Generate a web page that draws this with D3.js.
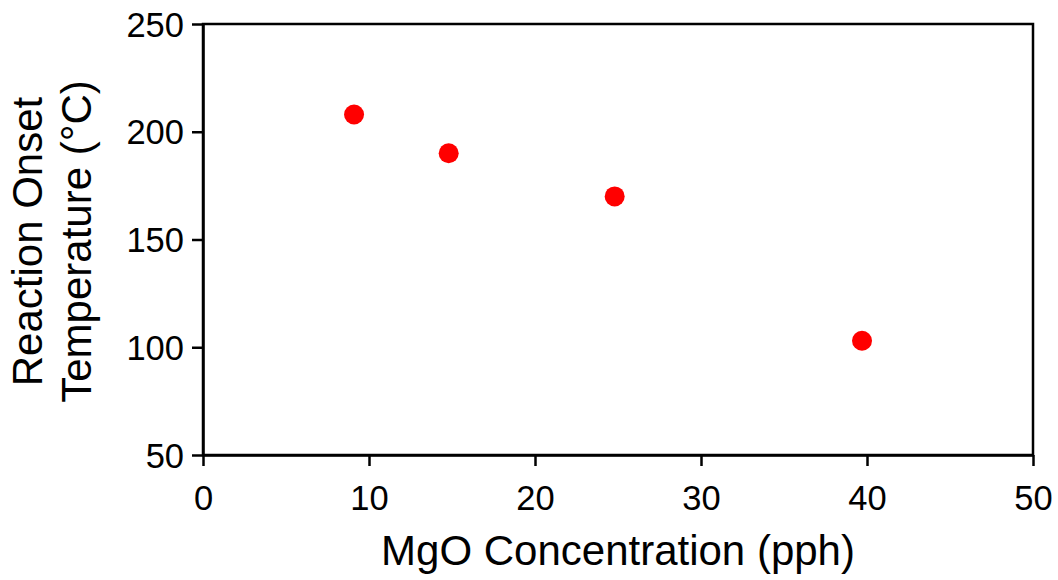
<!DOCTYPE html>
<html>
<head>
<meta charset="utf-8">
<script src="https://cdn.jsdelivr.net/npm/d3@7"></script>
<style>
  body { margin: 0; background: #fff; }
  text { font-family: "Liberation Sans", Arial, sans-serif; fill: #000; }
</style>
</head>
<body>
<div id="chart"></div>
<script>
// data
const mgo = [9.1, 14.8, 24.8, 39.7];
const onsetTemp = [208, 190, 170, 103];
const xTicks = [0, 10, 20, 30, 40, 50];
const yTicks = [50, 100, 150, 200, 250];

const W = 1058, H = 580;
const margin = { top: 24, right: 25, bottom: 125, left: 203 };
const width = W - margin.left - margin.right;
const height = H - margin.top - margin.bottom;

const svg = d3.select("#chart").append("svg")
    .attr("width", W).attr("height", H);

const g = svg.append("g")
    .attr("transform", "translate(" + margin.left + "," + margin.top + ")");

const x = d3.scaleLinear().domain([0, 50]).range([0, width]);
const y = d3.scaleLinear().domain([50, 250]).range([height, 0]);

// frame
g.append("rect")
    .attr("width", width).attr("height", height)
    .attr("fill", "none").attr("stroke", "#000").attr("stroke-width", 2.5);

const xAxis = g.append("g")
    .attr("transform", "translate(0," + height + ")")
    .call(d3.axisBottom(x).tickValues(xTicks).tickSize(11).tickSizeOuter(0).tickPadding(20));
const yAxis = g.append("g")
    .call(d3.axisLeft(y).tickValues(yTicks).tickSize(11).tickSizeOuter(0).tickPadding(8));

[xAxis, yAxis].forEach(a => {
    a.select(".domain").attr("stroke-width", 2.5);
    a.selectAll(".tick line").attr("stroke-width", 2.5);
    a.selectAll(".tick text").style("font-size", "34.5px").attr("fill", "#000");
});
xAxis.selectAll(".tick text").attr("dy", "0.71em");
yAxis.selectAll(".tick text").attr("dy", "0.35em");

// points
g.selectAll(".pt")
    .data(mgo.map((v, i) => [v, onsetTemp[i]]))
    .enter().append("circle")
    .attr("class", "pt")
    .attr("cx", d => x(d[0]))
    .attr("cy", d => y(d[1]))
    .attr("r", 10)
    .attr("fill", "#ff0000");

// axis titles
svg.append("text")
    .attr("x", margin.left + width / 2)
    .attr("y", 565)
    .attr("text-anchor", "middle")
    .style("font-size", "42px")
    .text("MgO Concentration (pph)");

const yt = svg.append("text")
    .attr("transform", "translate(0," + (margin.top + height / 2 + 2) + ") rotate(-90)")
    .attr("text-anchor", "middle")
    .style("font-size", "42px");
yt.append("tspan").attr("x", 0).attr("y", 42).text("Reaction Onset");
yt.append("tspan").attr("x", 0).attr("y", 91).text("Temperature (°C)");
</script>
</body>
</html>
